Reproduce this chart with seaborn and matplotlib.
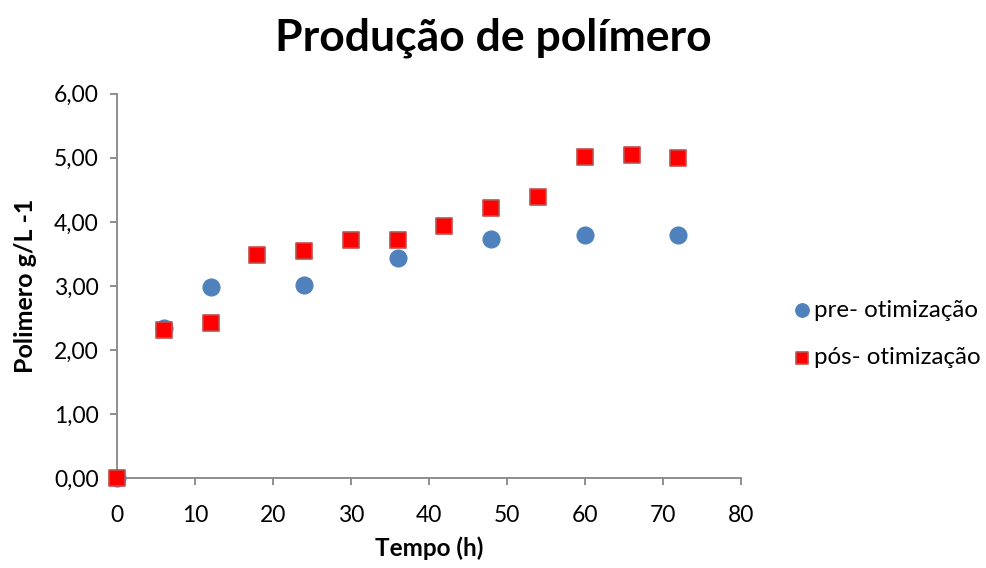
import matplotlib
matplotlib.use("Agg")
import matplotlib.pyplot as plt
import seaborn as sns
import pandas as pd
from matplotlib.ticker import FuncFormatter, MultipleLocator

sns.set_theme(style="white")
plt.rcParams["font.family"] = ["Lato", "DejaVu Sans"]
plt.rcParams["text.color"] = "black"

# Tempo (h) e produção de polímero (g/L)
tempo_pre = [0, 6, 12, 24, 36, 48, 60, 72]
polimero_pre = [0.00, 2.35, 2.98, 3.02, 3.43, 3.74, 3.80, 3.80]

tempo_pos = [0, 6, 12, 18, 24, 30, 36, 42, 48, 54, 60, 66, 72]
polimero_pos = [0.00, 2.31, 2.43, 3.49, 3.55, 3.71, 3.72, 3.94, 4.22, 4.39, 5.02, 5.05, 4.99]

label_pre = "pre- otimização"
label_pos = "pós- otimização"

df_pre = pd.DataFrame({"tempo": tempo_pre, "polimero": polimero_pre})
df_pos = pd.DataFrame({"tempo": tempo_pos, "polimero": polimero_pos})

fig = plt.figure(figsize=(9.87, 5.68), dpi=100)
ax = fig.add_axes([0.1185, 0.158, 0.632, 0.677])

sns.scatterplot(data=df_pre, x="tempo", y="polimero", ax=ax, marker="o",
                s=150, color="#4F81BD", edgecolor="#4F81BD", linewidth=0.8,
                label=label_pre, clip_on=False, zorder=3)
sns.scatterplot(data=df_pos, x="tempo", y="polimero", ax=ax, marker="s",
                s=130, color="#FF0000", edgecolor="#C0504D", linewidth=1.2,
                label=label_pos, clip_on=False, zorder=4)

ax.set_xlim(0, 80)
ax.set_ylim(0, 6)
ax.xaxis.set_major_locator(MultipleLocator(10))
ax.yaxis.set_major_locator(MultipleLocator(1))
ax.yaxis.set_major_formatter(FuncFormatter(lambda v, _: f"{v:.2f}".replace(".", ",")))

for side in ("top", "right"):
    ax.spines[side].set_visible(False)
for side in ("left", "bottom"):
    ax.spines[side].set_color("#868686")
    ax.spines[side].set_linewidth(1.3)

ax.tick_params(axis="both", which="major", direction="out", length=5, width=1.3,
               color="#868686", labelsize=16.5, labelcolor="black", pad=8)
ax.tick_params(axis="x", pad=14)
ax.tick_params(left=True, bottom=True)

ax.set_xlabel("Tempo (h)", fontsize=17.5, fontweight="bold", labelpad=8, color="black")
ax.set_ylabel("Polimero g/L -1", fontsize=18, fontweight="bold", labelpad=12, color="black")

fig.text(0.5, 1 - 38 / 568, "Produção de polímero", fontsize=32, fontweight="bold",
         ha="center", va="center", color="black")

leg = ax.legend(loc="center left", bbox_to_anchor=(1.063, 0.375), frameon=False,
                fontsize=17.4, labelspacing=1.1, handletextpad=0.0,
                handlelength=1.0, borderaxespad=0, markerscale=0.8)

fig.savefig("out.png", dpi=100)
